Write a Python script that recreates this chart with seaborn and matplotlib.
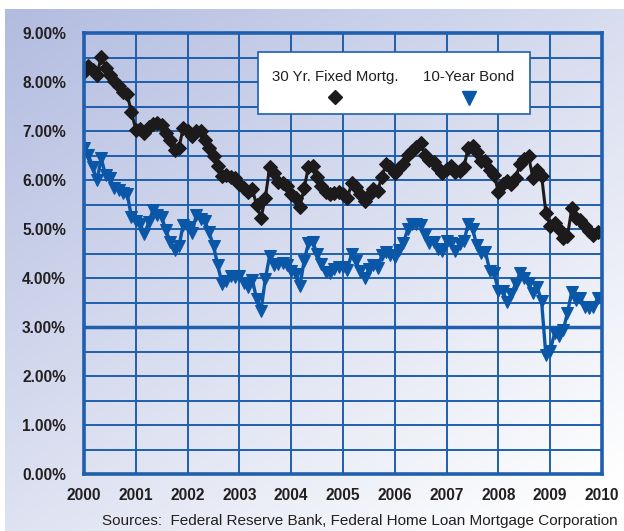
import numpy as np
import pandas as pd
import matplotlib
matplotlib.use("Agg")
import matplotlib.pyplot as plt
import seaborn as sns
from matplotlib.patches import Rectangle
from matplotlib import font_manager as fm

# ---- data (monthly averages, Jan 2000 - Dec 2009) ----
years = list(range(2000, 2010))
mortgage_30yr = [
    8.21, 8.33, 8.24, 8.15, 8.52, 8.29, 8.15, 8.03, 7.91, 7.80, 7.75, 7.38,
    7.03, 7.05, 6.95, 7.08, 7.15, 7.16, 7.13, 6.95, 6.82, 6.62, 6.66, 7.07,
    7.00, 6.89, 7.01, 6.99, 6.81, 6.65, 6.49, 6.29, 6.09, 6.11, 6.07, 6.05,
    5.92, 5.84, 5.75, 5.81, 5.48, 5.23, 5.63, 6.26, 6.15, 5.95, 5.93, 5.88,
    5.71, 5.64, 5.45, 5.83, 6.27, 6.29, 6.06, 5.87, 5.75, 5.72, 5.73, 5.75,
    5.71, 5.63, 5.93, 5.86, 5.72, 5.58, 5.70, 5.82, 5.77, 6.07, 6.33, 6.27,
    6.15, 6.25, 6.32, 6.51, 6.60, 6.68, 6.76, 6.52, 6.40, 6.36, 6.24, 6.14,
    6.22, 6.29, 6.16, 6.18, 6.26, 6.66, 6.70, 6.57, 6.38, 6.38, 6.21, 6.10,
    5.76, 5.92, 5.97, 5.92, 6.04, 6.32, 6.43, 6.48, 6.04, 6.20, 6.09, 5.33,
    5.06, 5.13, 5.00, 4.81, 4.86, 5.42, 5.22, 5.19, 5.06, 4.95, 4.88, 4.93,
]
bond_10yr = [
    6.66, 6.52, 6.26, 5.99, 6.44, 6.10, 6.05, 5.83, 5.80, 5.74, 5.72, 5.24,
    5.16, 5.10, 4.89, 5.14, 5.39, 5.28, 5.24, 4.97, 4.73, 4.57, 4.65, 5.09,
    5.04, 4.91, 5.28, 5.21, 5.16, 4.93, 4.65, 4.26, 3.87, 3.94, 4.05, 4.03,
    4.05, 3.90, 3.81, 3.96, 3.57, 3.33, 3.98, 4.45, 4.27, 4.29, 4.30, 4.27,
    4.15, 4.08, 3.83, 4.35, 4.72, 4.73, 4.50, 4.28, 4.13, 4.10, 4.19, 4.23,
    4.22, 4.17, 4.50, 4.34, 4.14, 4.00, 4.18, 4.26, 4.20, 4.46, 4.54, 4.47,
    4.42, 4.57, 4.72, 4.99, 5.11, 5.11, 5.09, 4.88, 4.72, 4.73, 4.60, 4.56,
    4.76, 4.72, 4.56, 4.69, 4.75, 5.10, 5.00, 4.67, 4.52, 4.53, 4.15, 4.10,
    3.74, 3.74, 3.51, 3.68, 3.88, 4.10, 4.01, 3.89, 3.69, 3.81, 3.53, 2.42,
    2.52, 2.87, 2.82, 2.93, 3.29, 3.72, 3.56, 3.59, 3.40, 3.39, 3.40, 3.59,
]
x_ticks = list(range(2000, 2011))
y_ticks = [0, 1, 2, 3, 4, 5, 6, 7, 8, 9]
series_names = ["30 Yr. Fixed Mortg.", "10-Year Bond"]
source_text = "Sources:  Federal Reserve Bank, Federal Home Loan Mortgage Corporation"

t = [y + m / 12.0 for y in years for m in range(12)]
df_m = pd.DataFrame({"t": t, "rate": mortgage_30yr})
df_b = pd.DataFrame({"t": t, "rate": bond_10yr})

# ---- styling ----
sns.set_style("white")
names = {f.name for f in fm.fontManager.ttflist}
if "Liberation Sans Narrow" in names:
    fam = ["Liberation Sans Narrow", "DejaVu Sans"]
    k = 1.2
else:
    fam = ["Liberation Sans", "DejaVu Sans"]
    k = 1.0
plt.rcParams["font.family"] = fam

BLUE = "#0a57a8"
GRID = "#1f5fae"
TXT = "#231f20"
BLACK = "#1c1a1a"

fig = plt.figure(figsize=(6.24, 5.31), dpi=100)

# gradient background
bg = fig.add_axes([5 / 624, 0, 1 - 5 / 624, 1 - 9 / 531], zorder=-10)
nx, ny = 200, 200
gx, gy = np.meshgrid(np.linspace(0, 1, nx), np.linspace(0, 1, ny))
s = np.clip((gx * 0.85 + gy * 1.0) / 1.75, 0, 1)
c0 = np.array([178, 188, 224]) / 255.0
c1 = np.array([255, 255, 255]) / 255.0
img = c0[None, None, :] * (1 - s[..., None]) + c1[None, None, :] * s[..., None]
bg.imshow(img, aspect="auto", extent=[0, 1, 0, 1], origin="upper")
bg.axis("off")

ax = fig.add_axes([84 / 624, 1 - 474 / 531, (602 - 84) / 624, (474 - 33) / 531])
ax.patch.set_alpha(0)

sns.lineplot(data=df_b, x="t", y="rate", ax=ax, color=BLUE, lw=2.4,
             marker="v", markersize=9, markeredgecolor=BLUE,
             markerfacecolor=BLUE, zorder=5)
sns.lineplot(data=df_m, x="t", y="rate", ax=ax, color=BLACK, lw=2.2,
             marker="D", markersize=7.2, markeredgecolor=BLACK,
             markerfacecolor=BLACK, zorder=6)

ax.set_xlim(2000, 2010)
ax.set_ylim(0, 9)
ax.set_xticks(x_ticks)
ax.set_yticks(y_ticks)
ax.set_xticklabels([str(v) for v in x_ticks], fontsize=11.2 * k,
                   fontweight="bold", color=TXT)
ax.set_yticklabels([f"{v:.2f}%" for v in y_ticks], fontsize=11.2 * k,
                   fontweight="bold", color=TXT)
ax.set_xlabel("")
ax.set_ylabel("")
ax.tick_params(axis="y", length=0, pad=13)
ax.tick_params(axis="x", length=0, pad=10)

# grid
for xv in x_ticks[1:-1]:
    ax.axvline(xv, color=GRID, lw=1.4, zorder=1)
for yv in np.arange(0.5, 9.0, 0.5):
    ax.axhline(yv, color=GRID, lw=2.5 if abs(yv - 3) < 1e-9 else 1.4, zorder=1)
for sp in ax.spines.values():
    sp.set_color(GRID)
    sp.set_linewidth(2.6)
    sp.set_zorder(7)

# legend box (labels above markers)
ax.add_patch(Rectangle((0.336, 0.816), 0.525, 0.141, transform=ax.transAxes,
                       facecolor="white", edgecolor=GRID, lw=1.2, zorder=8))
ax.text(0.485, 0.900, series_names[0], transform=ax.transAxes, ha="center",
        va="center", fontsize=10.8 * k, color=TXT, zorder=9)
ax.text(0.743, 0.900, series_names[1], transform=ax.transAxes, ha="center",
        va="center", fontsize=10.8 * k, color=TXT, zorder=9)
ax.plot([0.484], [0.855], transform=ax.transAxes, marker="D", markersize=7,
        color=BLACK, ls="none", zorder=9, clip_on=False)
ax.plot([0.743], [0.852], transform=ax.transAxes, marker="v", markersize=10,
        color=BLUE, ls="none", zorder=9, clip_on=False)

fig.text(618 / 624, 1 - 521 / 531, source_text, ha="right", va="center",
         fontsize=11.0 * k, color=TXT)

fig.savefig("out.png", dpi=100)
